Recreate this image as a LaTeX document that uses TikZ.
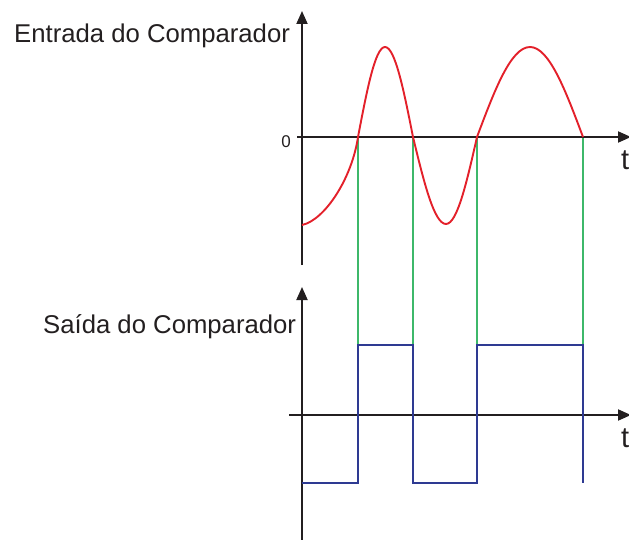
\documentclass[tikz,border=0pt]{standalone}
\usepackage{fontspec}
\setmainfont{Liberation Sans}
\usetikzlibrary{arrows.meta}
\definecolor{axisblack}{HTML}{231F20}
\definecolor{sigred}{HTML}{E3202A}
\definecolor{sigblue}{HTML}{2E3A92}
\definecolor{siggreen}{HTML}{3DB86A}
\tikzset{
  axis/.style={draw=axisblack, line width=1.9pt, -{Triangle[length=13pt,width=11pt]}},
  redwave/.style={draw=sigred, line width=1.9pt},
  bluewave/.style={draw=sigblue, line width=1.9pt},
  guide/.style={draw=siggreen, line width=1.2pt},
  biglabel/.style={inner sep=0pt, font=\fontsize{25.7}{30}\selectfont, text=axisblack},
  smalllabel/.style={inner sep=0pt, font=\fontsize{17}{20}\selectfont, text=axisblack},
  tlabel/.style={inner sep=0pt, font=\fontsize{29}{34}\selectfont, text=axisblack}
}
\begin{document}
\begin{tikzpicture}[x=1pt,y=-1pt]
\useasboundingbox (0,0) rectangle (629,540);
% coordinates
\coordinate (uyb) at (302,265);
\coordinate (uyt) at (302,11);
\coordinate (uxl) at (297,137);
\coordinate (uxr) at (631,137);
\coordinate (lyb) at (302,541);
\coordinate (lyt) at (302,287);
\coordinate (lxl) at (289,415);
\coordinate (lxr) at (631,415);
% green guides
\foreach \gx/\gn in {358/g1,413/g2,477/g3,583/g4}{
  \coordinate (\gn a) at (\gx,137);
  \coordinate (\gn b) at (\gx,345);
  \draw[guide] (\gn a) -- (\gn b);
}
% axes
\draw[axis] (uyb) -- (uyt);
\draw[axis] (uxl) -- (uxr);
\draw[axis] (lyb) -- (lyt);
\draw[axis] (lxl) -- (lxr);
% red input
\coordinate (p0) at (302,225);
\coordinate (z1) at (358,137);
\coordinate (m1) at (385,47);
\coordinate (z2) at (413,137);
\coordinate (m2) at (446,224);
\coordinate (z3) at (477,137);
\coordinate (m3) at (530,47);
\coordinate (z4) at (583,137);
\draw[redwave] (p0) .. controls (325,220) and (352,178) .. (z1)
  .. controls (366.8,90.9) and (375.2,47) .. (m1)
  .. controls (395.1,47) and (403.9,90.9) .. (z2)
  .. controls (423.8,181.6) and (434.1,224) .. (m2)
  .. controls (457.2,224) and (466.9,181.6) .. (z3)
  .. controls (494.3,90.9) and (510.8,47) .. (m3)
  .. controls (549.2,47) and (565.7,90.9) .. (z4);
% blue output
\coordinate (b0) at (302,483);
\coordinate (b1) at (358,483);
\coordinate (b2) at (358,345);
\coordinate (b3) at (413,345);
\coordinate (b4) at (413,483);
\coordinate (b5) at (477,483);
\coordinate (b6) at (477,345);
\coordinate (b7) at (583,345);
\coordinate (b8) at (583,483);
\draw[bluewave] (b0) -- (b1) -- (b2) -- (b3) -- (b4) -- (b5) -- (b6) -- (b7) -- (b8);
% labels
\node[biglabel, anchor=base west] (lin) at (14,43) {Entrada do Comparador};
\node[biglabel, anchor=base west] (lout) at (43,333) {Saída do Comparador};
\node[smalllabel, anchor=base east] (zero) at (291,148) {0};
\node[tlabel, anchor=base west] (t1) at (621,170) {t};
\node[tlabel, anchor=base west] (t2) at (621,447) {t};
\end{tikzpicture}
\end{document}
